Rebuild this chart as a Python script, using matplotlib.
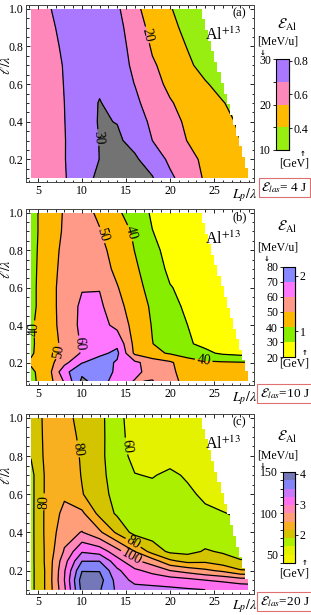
import numpy as np
import matplotlib
matplotlib.use('Agg')
from matplotlib import pyplot as plt
from matplotlib.colors import ListedColormap, BoundaryNorm
from matplotlib.patches import Polygon
from matplotlib.ticker import MultipleLocator
import matplotlib.cm as cm

plt.rcParams['font.family'] = 'serif'
plt.rcParams['font.serif'] = ['Liberation Serif', 'DejaVu Serif']
plt.rcParams['mathtext.fontset'] = 'stix'

# grid of the simulation: pulse length Lp/lambda (columns), target thickness l/lambda (rows)
lp = [4.2, 6, 8, 10, 12, 14, 16, 18, 20, 22, 24, 26, 28, 30]

# (a) 4 J, MeV/u
l_a = [0.1, 0.2, 0.3, 0.4, 0.5, 0.6, 0.7, 0.8, 0.9, 1.0]
e_a = [
    [22.5, 23.0, 24.6, 28.2, 31.0, 32.0, 31.5, 30.3, 26.0, 22.5, 19.5, 17.8, 16.5, 16.0],
    [22.5, 23.0, 24.8, 28.0, 30.05, 31.2, 30.6, 28.0, 24.0, 21.2, 19.2, 17.5, 16.2, 15.5],
    [22.5, 23.0, 24.8, 27.8, 30.1, 30.6, 28.8, 25.0, 21.8, 19.9, 18.0, 16.3, 15.0, 14.5],
    [22.5, 23.1, 24.9, 28.0, 30.3, 29.9, 27.5, 24.0, 21.0, 19.5, 17.8, 16.0, 14.5, 14.0],
    [22.5, 23.2, 25.0, 28.0, 30.2, 28.5, 26.4, 22.0, 20.3, 18.8, 16.8, 15.2, 13.5, 13.0],
    [22.5, 23.3, 25.1, 27.8, 29.3, 27.8, 24.9, 21.3, 19.2, 17.5, 15.4, 13.5, 12.0, 12.0],
    [22.5, 23.5, 25.2, 27.5, 28.8, 27.3, 24.0, 20.5, 18.5, 15.8, 13.5, 12.0, 12.0, 12.0],
    [22.5, 23.8, 25.5, 27.5, 28.3, 27.0, 23.3, 19.5, 17.2, 14.8, 13.0, 12.0, 12.0, 12.0],
    [22.5, 24.0, 26.0, 27.5, 28.0, 26.5, 22.5, 18.5, 16.0, 14.0, 12.5, 12.0, 12.0, 12.0],
    [22.0, 24.5, 26.5, 27.5, 27.5, 25.8, 21.0, 18.0, 15.3, 13.0, 11.5, 11.0, 11.0, 11.0],
]
lev_a = [10, 15, 20, 25, 30]
col_a = ['#99ee11', '#ffbb00', '#ff88bb', '#aa77ff']
over_a = '#737373'

# (b) 10 J
l_b = [0.1, 0.15, 0.2, 0.25, 0.3, 0.4, 0.5, 0.6, 0.7, 0.8, 0.9, 1.0]
e_b = [
    [38.0, 44.0, 61.0, 82.0, 76.0, 64.0, 59.5, 60.5, 53.0, 47.0, 45.0, 44.0, 43.0, 43.0],
    [38.5, 44.0, 67.0, 78.0, 76.0, 68.0, 62.0, 57.0, 52.0, 46.0, 44.0, 43.0, 42.0, 42.0],
    [41.0, 45.0, 57.0, 69.5, 74.0, 69.0, 62.0, 55.5, 51.5, 44.0, 41.5, 41.0, 40.5, 40.0],
    [39.0, 44.5, 52.5, 61.0, 68.0, 72.0, 48.0, 42.5, 39.0, 36.0, 32.0, 28.5, 27.0, 26.0],
    [39.0, 43.5, 53.0, 61.0, 66.0, 68.0, 47.0, 40.2, 35.5, 31.0, 28.0, 26.0, 25.0, 24.5],
    [39.0, 44.0, 54.5, 62.0, 64.0, 57.0, 46.5, 39.5, 34.5, 30.0, 27.0, 25.0, 24.0, 23.5],
    [38.0, 44.0, 55.0, 61.5, 62.0, 53.0, 45.5, 38.5, 32.5, 28.5, 26.0, 24.5, 23.5, 23.0],
    [38.0, 44.0, 55.0, 59.5, 59.5, 50.5, 44.0, 36.0, 30.5, 27.5, 25.5, 24.0, 23.0, 22.5],
    [38.0, 43.5, 54.0, 56.0, 54.0, 48.0, 41.5, 35.0, 28.0, 26.0, 24.5, 23.5, 22.5, 22.0],
    [38.0, 43.0, 53.0, 55.0, 52.5, 46.5, 39.8, 32.0, 27.5, 25.0, 23.5, 22.5, 22.0, 21.5],
    [38.0, 42.5, 51.5, 54.0, 50.5, 44.0, 38.8, 30.2, 26.0, 24.0, 22.5, 22.0, 21.5, 21.0],
    [38.0, 42.5, 51.0, 53.0, 48.5, 41.2, 36.5, 28.5, 25.0, 23.0, 22.0, 21.0, 21.0, 21.0],
]
lev_b = [20, 30, 40, 50, 60, 70, 80]
col_b = ['#ffff00', '#88ee00', '#ffb800', '#ff9988', '#ff77ff', '#8888ff']
over_b = '#808080'

# (c) 20 J
l_c = [0.1, 0.15, 0.2, 0.25, 0.3, 0.4, 0.5, 0.6, 0.7, 0.8, 0.9, 1.0]
e_c = [
    [67, 82, 108, 143, 141, 128, 124, 123, 122, 121, 120, 119, 118, 117],
    [67, 82, 110, 145, 144, 126, 117, 116, 115, 113, 110, 108, 105, 104],
    [67, 82, 109, 139.5, 139.5, 122, 112, 107, 100, 96, 92, 88, 81, 80],
    [67, 82.5, 106, 129.8, 129.8, 114, 102, 95, 82, 77, 78, 74, 70.5, 70],
    [67, 82.5, 101, 119, 116, 104, 90, 76, 68, 67, 71, 69, 67.5, 67],
    [67, 83, 96, 100.5, 92, 78, 66.5, 65, 64.5, 64, 64, 63, 62, 61],
    [67, 83, 92.5, 92, 77, 68.5, 65, 64, 63.5, 63, 61.5, 60.3, 59, 58],
    [67, 82.5, 88.5, 80.5, 74.5, 66, 63, 62.5, 63, 61.5, 58.5, 57, 56, 55.5],
    [67, 82.5, 86.5, 79.5, 73, 65, 60.3, 59.5, 61.5, 59, 57.5, 56, 55.5, 55],
    [70.5, 83, 85.5, 79, 72.5, 64, 57.5, 56.5, 57, 57, 56, 55, 54.5, 54],
    [72, 83, 84.5, 78, 73, 63, 56.5, 55.5, 55.5, 55, 54.5, 54, 53.5, 53],
    [73, 83, 84, 76, 73, 62.5, 56, 55, 54.5, 54, 53.5, 53, 53, 53],
]
lev_c = [40, 50, 60, 70, 80, 90, 100, 110, 120, 130, 140, 150]
col_c = ['#f4f400', '#e4f200', '#aaf000', '#d4c400', '#f8b020', '#ff9e78',
         '#ff88b8', '#ff70f0', '#c878f8', '#8484f8', '#7478b8']
over_c = '#6a6a9a'

# simulated region ends on a slanted edge in the upper right
edge_top = 23.3
edge_bot = 28.9

W, H = 311, 615
fig = plt.figure(figsize=(W / 100, H / 100), dpi=100)


def fx(px):
    return px / W


def fy(py):
    return 1 - py / H


def panel(box, cbox, rows, E, levels, colors, over, labels, cb_ticks, gev_ticks,
          tag, energy, txt_y, bar_x):
    ax = fig.add_axes([fx(box[0]), fy(box[3]), (box[1] - box[0]) / W, (box[3] - box[2]) / H])
    X, Y = np.meshgrid(lp, rows)
    Z = np.array(E, dtype=float)
    cmap = ListedColormap(colors)
    cmap.set_over(over)
    norm = BoundaryNorm(levels, cmap.N)
    cf = ax.contourf(X, Y, Z, levels=levels, cmap=cmap, norm=norm, extend='max')

    # staircase clip along the upper-right edge
    n = 16
    dl = (rows[-1] - rows[0]) / n
    dlp = (edge_bot - edge_top) / n
    verts = [(lp[0], rows[0])]
    for k in range(n):
        x = edge_bot - k * dlp
        verts += [(x, rows[0] + k * dl), (x, rows[0] + (k + 1) * dl)]
    verts += [(edge_top, rows[-1]), (lp[0], rows[-1])]
    poly = Polygon(verts, closed=True, transform=ax.transData, fc='none', ec='none')
    ax.add_patch(poly)
    cf.set_clip_path(poly)

    for lev in levels:
        cl = ax.contour(X, Y, Z, levels=[lev], colors='k', linewidths=0.9)
        cl.set_clip_path(poly)
        spots = [(x, y) for v, x, y in labels if v == lev]
        if spots:
            ax.clabel(cl, manual=spots, fmt='%d', fontsize=10, inline=True,
                      inline_spacing=2)

    ax.set_xlim(3.64, 29.55)
    ax.set_ylim(0.08, 1.02)
    ax.set_xticks([5, 10, 15, 20, 25])
    ax.set_yticks([0.2, 0.4, 0.6, 0.8, 1.0])
    ax.xaxis.set_minor_locator(MultipleLocator(1))
    ax.yaxis.set_minor_locator(MultipleLocator(0.05))
    ax.tick_params(which='both', direction='in', top=True, right=True, labelsize=8.5,
                   pad=2, width=0.6)
    ax.tick_params(which='major', length=3)
    ax.tick_params(which='minor', length=1.8)
    for s in ax.spines.values():
        s.set_linewidth(0.7)
        s.set_color('#444444')
    ax.set_ylabel(r'$\ell/\lambda$', fontsize=10)
    ax.yaxis.set_label_coords(-0.055, 0.66)
    ax.text(0.957, -0.022, r'$L_p/\lambda$', transform=ax.transAxes, ha='center',
            va='top', fontsize=10)
    ax.text(0.936, 0.955, tag, transform=ax.transAxes, ha='center', va='center', fontsize=9)
    ax.text(0.865, 0.83, r'Al$^{+13}$', transform=ax.transAxes, ha='center', va='center',
            fontsize=11.5)

    cax = fig.add_axes([fx(cbox[0]), fy(cbox[3]), (cbox[1] - cbox[0]) / W,
                        (cbox[3] - cbox[2]) / H])
    sm = cm.ScalarMappable(norm=norm, cmap=cmap)
    cb = fig.colorbar(sm, cax=cax, extend='neither')
    cb.outline.set_linewidth(0.8)
    cax.yaxis.set_ticks_position('left')
    cb.set_ticks(cb_ticks)
    cax.tick_params(labelsize=8.5, length=2.5, width=0.6, pad=1)
    sec = cax.secondary_yaxis('right', functions=(lambda e: e * 27 / 1000.0,
                                                 lambda g: g * 1000.0 / 27))
    sec.set_yticks(gev_ticks)
    sec.tick_params(labelsize=8.5, length=2.5, width=0.6, pad=1)

    # legend texts around the colour bar
    fig.text(fx(287), fy(txt_y[0]), r'$\mathcal{E}_{\rm Al}$', ha='center', va='center',
             fontsize=10.5)
    fig.text(fx(278), fy(txt_y[1]), '[MeV/u]', ha='center', va='center', fontsize=8.5)
    fig.text(fx(bar_x[0]), fy(txt_y[2]), '\u2193', ha='center', va='center', fontsize=5,
             family='DejaVu Sans', fontweight='bold')
    fig.text(fx(bar_x[1]), fy(txt_y[3]), '\u2191', ha='center', va='center', fontsize=5,
             family='DejaVu Sans', fontweight='bold')
    fig.text(fx(294), fy(txt_y[4]), '[GeV]', ha='center', va='center', fontsize=8.5)
    fig.text(fx(284.5), fy(txt_y[5]), r'$\mathcal{E}_{las}$' + energy, ha='center',
             va='center', fontsize=9.5,
             bbox=dict(boxstyle='square,pad=0.18', fc='white', ec='#e07070', lw=0.8))
    return ax


panel((26, 254, 5, 182), (276, 289, 59, 150), l_a, e_a, lev_a, col_a, over_a,
      [(20, 17.3, 0.86), (30, 12.8, 0.32)], [10, 20, 30], [0.4, 0.6, 0.8],
      '(a)', '= 4 J', (25, 42, 53, 154, 164, 187.5), (263, 303))
panel((26, 254, 209, 385), (283, 295, 267, 357), l_b, e_b, lev_b, col_b, over_b,
      [(50, 12.2, 0.88), (40, 15.3, 0.89), (40, 5.6, 0.38), (50, 8.1, 0.26),
       (60, 10.6, 0.30), (40, 23.6, 0.155)],
      [20, 30, 40, 50, 60, 70, 80], [1, 2],
      '(b)', '=10 J', (227, 247, 259, 353, 363, 393.5), (267, 305))
panel((26, 254, 414, 593.5), (283, 295, 472, 563), l_c, e_c, lev_c, col_c, over_c,
      [(80, 10.0, 0.84), (60, 14.7, 0.85), (80, 6.0, 0.56), (80, 16.0, 0.36),
       (100, 15.3, 0.25)],
      [50, 100, 150], [2, 3, 4],
      '(c)', '=20 J', (437, 456, 466, 563, 573, 601.5), (263, 305))

fig.savefig('out.png', dpi=100)
